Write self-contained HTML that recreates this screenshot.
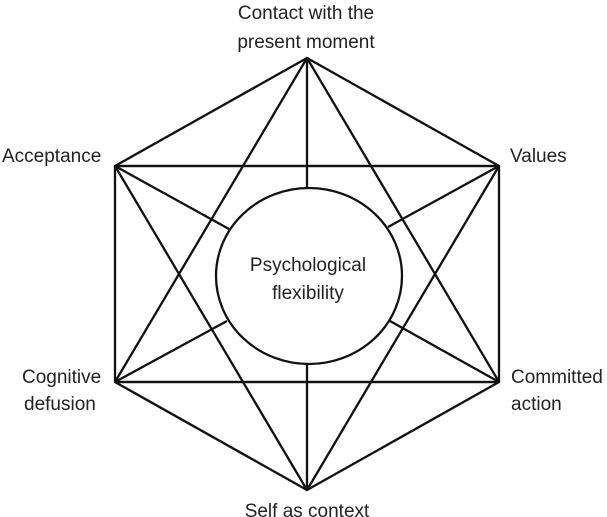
<!DOCTYPE html>
<html><head><style>body{margin:0;background:#fff}svg{display:block}text{font-family:"Liberation Sans",sans-serif;font-size:19px;fill:#222}</style></head><body>
<svg width="607" height="517" viewBox="0 0 607 517">
<g stroke="#111" stroke-width="2.3" fill="none" stroke-linejoin="round">
<polygon points="307,58 499,166 499,382 307,490 115,382 115,166"/>
<line x1="115" y1="166" x2="499" y2="166"/>
<line x1="115" y1="382" x2="499" y2="382"/>
<polygon points="307,58 499,382 115,382"/>
<polygon points="307,490 115,166 499,166"/>
<line x1="307" y1="58" x2="307" y2="188"/>
<line x1="307" y1="364" x2="307" y2="490"/>
<line x1="115" y1="166" x2="229" y2="229"/>
<line x1="499" y1="166" x2="388" y2="227"/>
<line x1="115" y1="382" x2="227" y2="321"/>
<line x1="499" y1="382" x2="390" y2="321"/>
<ellipse cx="309" cy="276" rx="93" ry="88" fill="#fff"/>
</g>
<text x="308" y="271" text-anchor="middle">Psychological</text>
<text x="308" y="299" text-anchor="middle">flexibility</text>
<text x="306" y="19" text-anchor="middle">Contact with the</text>
<text x="306" y="48" text-anchor="middle">present moment</text>
<text x="2" y="162">Acceptance</text>
<text x="510" y="162">Values</text>
<text x="22" y="383">Cognitive</text>
<text x="24" y="410">defusion</text>
<text x="511" y="383">Committed</text>
<text x="511" y="410">action</text>
<text x="307" y="517" text-anchor="middle">Self as context</text>
</svg>
</body></html>
